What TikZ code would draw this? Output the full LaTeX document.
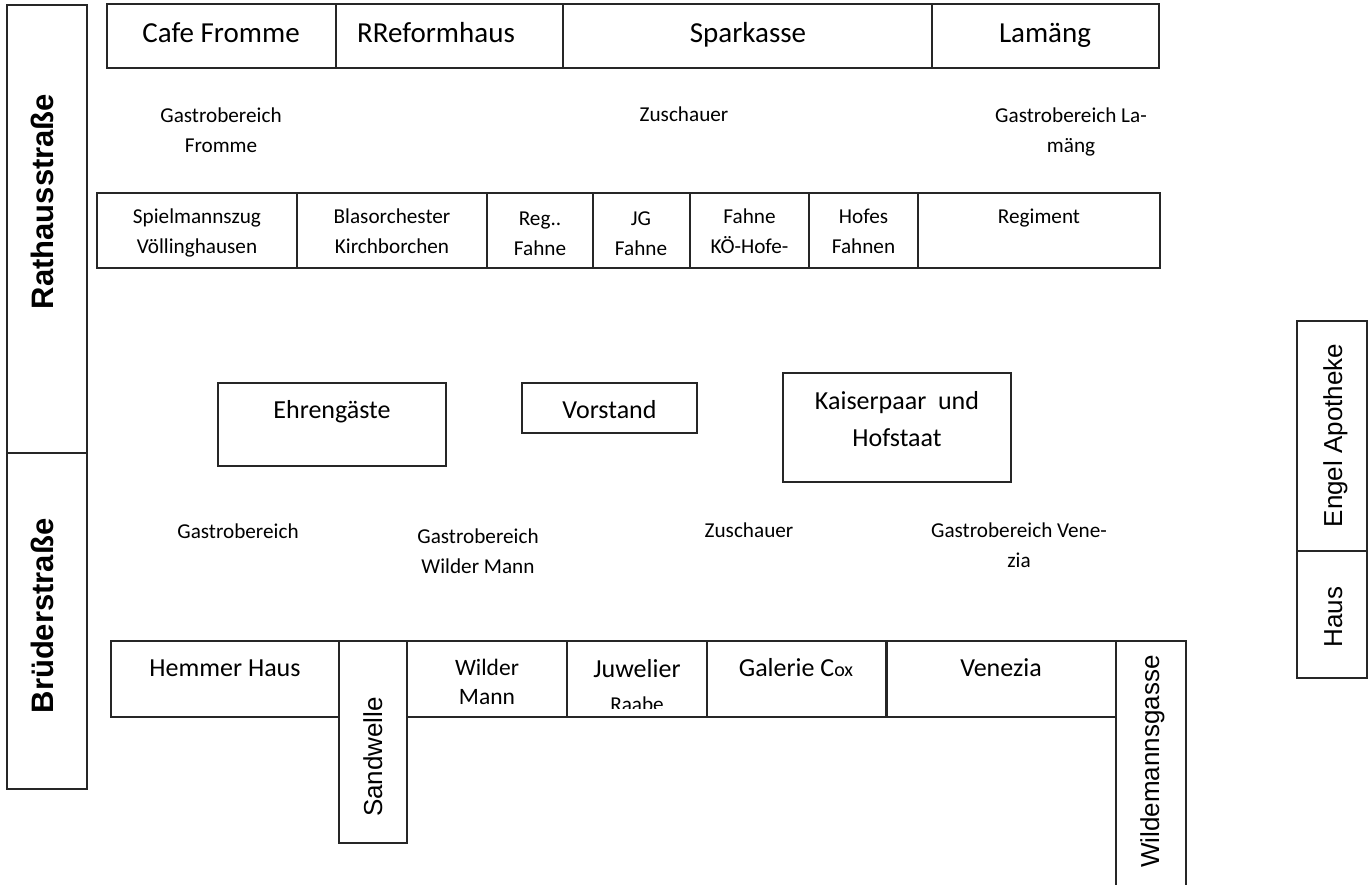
\documentclass[tikz,border=0pt]{standalone}
\usepackage{fontspec}
\setmainfont{Carlito}
\newfontfamily\arialf{Liberation Sans}
\tikzset{
 box/.style={draw=black!85, line width=1.1pt, inner sep=0pt, outer sep=0pt, anchor=north west},
 big/.style={font=\fontsize{29}{35}\selectfont, anchor=base, inner sep=0pt},
 mid/.style={font=\fontsize{26}{37}\selectfont, anchor=base, align=center, inner sep=0pt},
 sml/.style={font=\fontsize{21.2}{30}\selectfont, anchor=base, align=center, inner sep=0pt},
 street/.style={font=\arialf\bfseries\fontsize{31}{36}\selectfont, rotate=90, anchor=base, inner sep=0pt},
 lane/.style={font=\arialf\fontsize{26}{30}\selectfont, rotate=90, anchor=base, inner sep=0pt},
}
\newcommand\bx[5]{\node[box, minimum width={#4pt-#2pt}, minimum height={#5pt-#3pt}] (#1) at (#2,#3) {};}
\begin{document}
\begin{tikzpicture}[x=1pt,y=-1pt]
\clip (0,0) rectangle (1370,885);
\fill[white] (0,0) rectangle (1370,885);
% streets
\bx{rath}{7}{5}{87}{453}
\bx{brued}{7}{453}{87}{789}
\node[street] (trath) at (53,201.5) {Rathausstraße};
\node[street] (tbrued) at (53,616) {Brüderstraße};
% top row
\bx{cafe}{107}{4}{336}{68}
\bx{reform}{336}{4}{563}{68}
\bx{spark}{563}{4}{932}{68}
\bx{lam}{932}{4}{1159}{68}
\node[big] (tcafe) at (221,43) {Cafe Fromme};
\node[big] (treform) at (436,43) {RReformhaus};
\node[big] (tspark) at (748,43) {Sparkasse};
\node[big] (tlam) at (1045,43) {Lamäng};
% labels top
\node[sml] (g1) at (221,153) {Gastrobereich\\Fromme};
\node[sml] (z1) at (684,122) {Zuschauer};
\node[sml] (g2) at (1071,153) {Gastrobereich La-\\mäng};
% second row
\bx{spiel}{97}{193}{297}{268}
\bx{blas}{297}{193}{487}{268}
\bx{reg}{487}{193}{593}{268}
\bx{jg}{593}{193}{690}{268}
\bx{koe}{690}{193}{809}{268}
\bx{hof}{809}{193}{918}{268}
\bx{regi}{918}{193}{1160}{268}
\node[sml] (tspiel) at (197,254) {Spielmannszug\\Völlinghausen};
\node[sml] (tblas) at (392,254) {Blasorchester\\Kirchborchen};
\node[sml] (treg) at (540,256) {Reg..\\Fahne};
\node[sml] (tjg) at (641,256) {JG\\Fahne};
\node[sml] (tkoe) at (749.5,254) {Fahne\\KÖ-Hofe-};
\node[sml] (thof) at (863.5,254) {Hofes\\Fahnen};
\node[sml] (tregi) at (1039,224) {Regiment};
% middle boxes
\bx{ehren}{218}{383}{446}{466}
\bx{vorst}{522}{383}{697}{433}
\bx{kaiser}{783}{373}{1011}{482}
\node[mid] (tehren) at (332,418) {Ehrengäste};
\node[mid] (tvorst) at (609.5,418) {Vorstand};
\node[mid] (tkaiser) at (897,446) {Kaiserpaar~ und\\Hofstaat};
% Engel Apotheke
\bx{engel}{1297}{321}{1367}{551}
\bx{haus}{1297}{551}{1367}{678}
\node[lane] (tengel) at (1342,435.5) {Engel Apotheke};
\node[lane] (thaus) at (1342,617) {Haus};
% labels bottom
\node[sml] (g3) at (238,538) {Gastrobereich};
\node[sml] (g4) at (478,573) {Gastrobereich\\Wilder Mann};
\node[sml] (z2) at (749,537) {Zuschauer};
\node[sml] (g5) at (1019,567) {Gastrobereich Vene-\\zia};
% bottom row
\bx{hemmer}{111}{641}{339}{717}
\bx{wilder}{407}{641}{567}{717}
\bx{juw}{567}{641}{707}{717}
\bx{gal}{707}{641}{886}{717}
\bx{ven}{887}{641}{1116}{717}
\bx{sand}{339}{641}{407}{843}
\bx{wgasse}{1116}{641}{1186}{900}
\node[mid] (themmer) at (225,676) {Hemmer Haus};
\node[mid, font=\fontsize{23.5}{29}\selectfont] (twilder) at (487,704) {Wilder\\Mann};
\node[mid] (tjuw) at (637,677) {Juwelier};
\begin{scope}
\clip (567,641) rectangle (707,708);
\node[sml] (traabe) at (637,711) {Raabe};
\end{scope}
\node[mid] (tgal) at (796,676) {Galerie C{\fontsize{20}{24}\selectfont ox}};
\node[mid] (tven) at (1001,676) {Venezia};
\node[lane] (tsand) at (382,757) {Sandwelle};
\node[lane] (twgasse) at (1159,761.5) {Wildemannsgasse};
\end{tikzpicture}
\end{document}
